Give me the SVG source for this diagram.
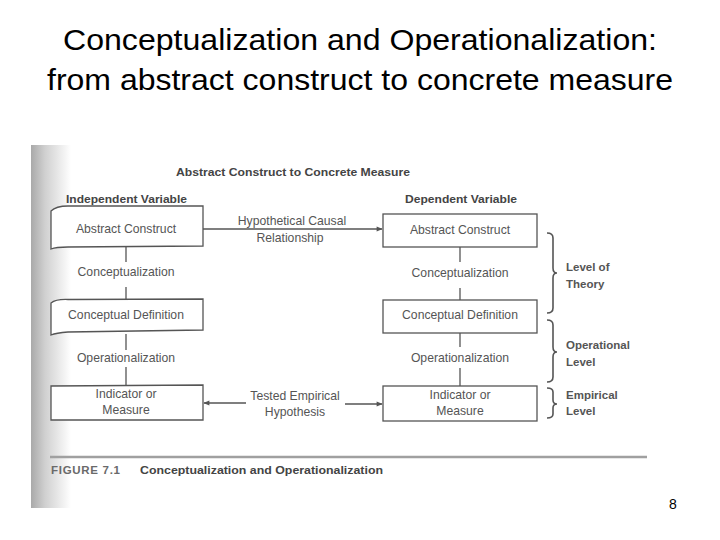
<svg xmlns="http://www.w3.org/2000/svg" width="720" height="540" viewBox="0 0 720 540">
<defs>
<linearGradient id="scan" x1="0" y1="0" x2="1" y2="0">
<stop offset="0" stop-color="#a9a9a9"/>
<stop offset="0.35" stop-color="#d0d0d0"/>
<stop offset="1" stop-color="#ffffff"/>
</linearGradient>
<marker id="ah" viewBox="0 0 10 10" refX="9" refY="5" markerWidth="8" markerHeight="6" orient="auto" markerUnits="userSpaceOnUse">
<path d="M0,1 L10,5 L0,9 z" fill="#555"/>
</marker>
<style>
.title{font-family:"Liberation Sans",Arial,sans-serif;font-size:29px;fill:#000}
.hd{font-family:"Liberation Sans",Arial,sans-serif;font-size:11.5px;font-weight:bold;fill:#444}
.t{font-family:"Liberation Sans",Arial,sans-serif;font-size:12.2px;fill:#555;text-anchor:middle}
.lv{font-family:"Liberation Sans",Arial,sans-serif;font-size:11.5px;font-weight:bold;fill:#555}
.box{fill:#fff;stroke:#555;stroke-width:1.3}
.ln{stroke:#555;stroke-width:1.3;fill:none}
.br{stroke:#555;stroke-width:1.6;fill:none}
</style>
</defs>
<rect width="720" height="540" fill="#fff"/>
<rect x="31" y="145" width="40" height="363" fill="url(#scan)"/>

<g id="title">
<text class="title" x="63" y="50" textLength="594" lengthAdjust="spacingAndGlyphs">Conceptualization and Operationalization:</text>
<text class="title" x="47" y="90" textLength="626" lengthAdjust="spacingAndGlyphs">from abstract construct to concrete measure</text>
</g>

<g id="headers">
<text class="hd" x="176" y="176" textLength="234" lengthAdjust="spacingAndGlyphs">Abstract Construct to Concrete Measure</text>
<text class="hd" x="66" y="203" textLength="121" lengthAdjust="spacingAndGlyphs">Independent Variable</text>
<text class="hd" x="405" y="203" textLength="112" lengthAdjust="spacingAndGlyphs">Dependent Variable</text>
</g>

<g id="connectors">
<line class="ln" x1="203" y1="229" x2="382" y2="229" marker-end="url(#ah)"/>
<line class="ln" x1="126" y1="247" x2="126" y2="262"/>
<line class="ln" x1="126" y1="287" x2="126" y2="301"/>
<line class="ln" x1="126" y1="334" x2="126" y2="350"/>
<line class="ln" x1="126" y1="367" x2="126" y2="385"/>
<line class="ln" x1="460" y1="247" x2="460" y2="262"/>
<line class="ln" x1="460" y1="288" x2="460" y2="300"/>
<line class="ln" x1="460" y1="333" x2="460" y2="347"/>
<line class="ln" x1="460" y1="368" x2="460" y2="386"/>
<line class="ln" x1="246" y1="403" x2="204" y2="403" marker-end="url(#ah)"/>
<line class="ln" x1="345" y1="404" x2="382" y2="404" marker-end="url(#ah)"/>
</g>

<g id="edge-labels">
<text class="t" x="292" y="225">Hypothetical Causal</text>
<text class="t" x="290" y="242">Relationship</text>
<text class="t" x="295" y="400">Tested Empirical</text>
<text class="t" x="295" y="416">Hypothesis</text>
</g>

<g id="left-abstract">
<path class="box" d="M51,211 Q56,206 68,206 L203,206 L203,246 L68,247 Q56,247 51,249 Z"/>
<text class="t" x="126" y="233">Abstract Construct</text>
</g>
<g id="left-conceptualization">
<text class="t" x="126" y="276">Conceptualization</text>
</g>
<g id="left-definition">
<path class="box" d="M51,303 Q56,299 68,299.5 L203,299 L203,330 L68,332 Q56,333 51,335 Z"/>
<text class="t" x="126" y="319">Conceptual Definition</text>
</g>
<g id="left-operationalization">
<text class="t" x="126" y="362">Operationalization</text>
</g>
<g id="left-indicator">
<path class="box" d="M51,386 L203,385 L203,420 L51,420 Z"/>
<text class="t" x="126" y="398">Indicator or</text>
<text class="t" x="126" y="414">Measure</text>
</g>

<g id="right-abstract">
<rect class="box" x="383" y="214" width="154" height="33"/>
<text class="t" x="460" y="234">Abstract Construct</text>
</g>
<g id="right-conceptualization">
<text class="t" x="460" y="277">Conceptualization</text>
</g>
<g id="right-definition">
<rect class="box" x="383" y="300" width="154" height="33"/>
<text class="t" x="460" y="319">Conceptual Definition</text>
</g>
<g id="right-operationalization">
<text class="t" x="460" y="362">Operationalization</text>
</g>
<g id="right-indicator">
<rect class="box" x="383" y="386" width="154" height="35"/>
<text class="t" x="460" y="399">Indicator or</text>
<text class="t" x="460" y="415">Measure</text>
</g>

<g id="level-theory">
<path class="br" d="M547,233 Q553,233 553,238 L553,268 Q553,273 557,273 Q553,273 553,278 L553,308 Q553,313 547,313"/>
<text class="lv" x="566" y="271">Level of</text>
<text class="lv" x="566" y="288">Theory</text>
</g>
<g id="level-operational">
<path class="br" d="M547,320 Q553,320 553,325 L553,347 Q553,352 557,352 Q553,352 553,357 L553,377 Q553,382 547,382"/>
<text class="lv" x="566" y="349">Operational</text>
<text class="lv" x="566" y="366">Level</text>
</g>
<g id="level-empirical">
<path class="br" d="M547,388 Q553,388 553,392 L553,400 Q553,404 557,404 Q553,404 553,408 L553,414 Q553,418 547,418"/>
<text class="lv" x="566" y="399">Empirical</text>
<text class="lv" x="566" y="415">Level</text>
</g>

<g id="caption">
<line x1="50" y1="457" x2="647" y2="457" stroke="#a0a0a0" stroke-width="2.5"/>
<text class="hd" x="51" y="474" style="fill:#6a6a6a" textLength="69" lengthAdjust="spacing">FIGURE 7.1</text>
<text class="hd" x="140" y="474" textLength="243" lengthAdjust="spacingAndGlyphs">Conceptualization and Operationalization</text>
</g>

<text x="673" y="509" font-family="'Liberation Sans',Arial,sans-serif" font-size="14" text-anchor="middle" fill="#000">8</text>
</svg>
